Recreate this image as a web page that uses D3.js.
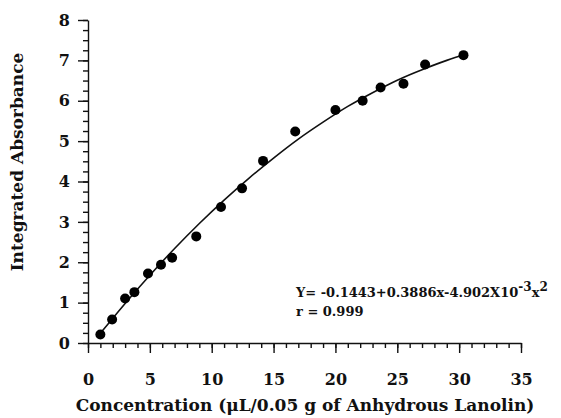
<!DOCTYPE html>
<html>
<head>
<meta charset="utf-8">
<script src="https://cdn.jsdelivr.net/npm/d3@7"></script>
<style>
  body { margin: 0; background: #fff; }
  text { font-family: "DejaVu Serif", "Liberation Serif", serif; fill: #111; }
</style>
</head>
<body>
<svg></svg>
<script>
// measured points (concentration, integrated absorbance)
let concentration = [1.0, 1.95, 3.0, 3.75, 4.85, 5.9, 6.8, 8.75, 10.75, 12.45, 14.15, 16.75, 20.0, 22.2, 23.65, 25.5, 27.25, 30.35];
let absorbance = [0.21, 0.58, 1.1, 1.26, 1.72, 1.94, 2.11, 2.64, 3.37, 3.83, 4.51, 5.24, 5.77, 6.0, 6.33, 6.42, 6.9, 7.13];

// fitted curve
let curveX = [1, 3, 5, 7, 9, 11, 13, 15, 17, 19, 21, 23, 25, 27, 29, 30.5];
let curveY = [0.24, 0.98, 1.68, 2.34, 2.96, 3.54, 4.08, 4.58, 5.05, 5.47, 5.86, 6.2, 6.51, 6.77, 7.0, 7.15];

let xTicks = [0, 5, 10, 15, 20, 25, 30, 35];
let yTicks = [0, 1, 2, 3, 4, 5, 6, 7, 8];

let width = 561;
let height = 418;
let plotLeft = 88, plotRight = 521, plotTop = 20, plotBottom = 343;

let svg = d3.select('svg').attr('width', width).attr('height', height);

let xScale = d3.scaleLinear().domain([0, 35]).range([plotLeft, plotRight]);
let yScale = d3.scaleLinear().domain([0, 8]).range([plotBottom, plotTop]);

//minor ticks first, then major with labels
svg.append('g')
    .attr('transform', 'translate(0,' + plotBottom + ')')
    .call(d3.axisBottom(xScale).tickValues(d3.range(0, 36, 1)).tickSize(5).tickFormat(''))
    .call(g => g.select('.domain').remove());
svg.append('g')
    .attr('transform', 'translate(0,' + plotBottom + ')')
    .call(d3.axisBottom(xScale).tickValues(xTicks).tickSize(10).tickPadding(21).tickSizeOuter(0))
    .call(g => g.selectAll('text').attr('font-size', 16).attr('font-weight', 'bold').attr('font-family', '"DejaVu Serif", serif'));

svg.append('g')
    .attr('transform', 'translate(' + plotLeft + ',0)')
    .call(d3.axisLeft(yScale).tickValues(d3.range(0, 8.01, 0.25)).tickSize(5).tickFormat(''))
    .call(g => g.select('.domain').remove());
svg.append('g')
    .attr('transform', 'translate(' + plotLeft + ',0)')
    .call(d3.axisLeft(yScale).tickValues(yTicks).tickSize(10).tickPadding(8).tickSizeOuter(0))
    .call(g => g.selectAll('text').attr('font-size', 16).attr('font-weight', 'bold').attr('font-family', '"DejaVu Serif", serif'));

svg.selectAll('.domain, .tick line').attr('stroke', '#111').attr('stroke-width', 1.4);

//fit line
let line = d3.line()
    .x((d, i) => xScale(curveX[i]))
    .y(d => yScale(d))
    .curve(d3.curveNatural);
svg.append('path')
    .datum(curveY)
    .attr('d', line)
    .attr('fill', 'none')
    .attr('stroke', '#111')
    .attr('stroke-width', 1.6);

//points
svg.selectAll('circle')
    .data(absorbance)
    .enter()
    .append('circle')
    .attr('cx', (d, i) => xScale(concentration[i]))
    .attr('cy', d => yScale(d))
    .attr('r', 5)
    .attr('fill', '#000');

//titles
svg.append('text')
    .attr('x', 305)
    .attr('y', 411)
    .attr('text-anchor', 'middle')
    .attr('font-size', 17)
    .attr('font-weight', 'bold')
    .text('Concentration (\u03bcL/0.05 g of Anhydrous Lanolin)');

svg.append('text')
    .attr('transform', 'translate(23,162) rotate(-90)')
    .attr('text-anchor', 'middle')
    .attr('font-size', 17)
    .attr('font-weight', 'bold')
    .text('Integrated Absorbance');

//equation
let eq = svg.append('text')
    .attr('x', 296)
    .attr('y', 297)
    .attr('font-size', 13)
    .attr('font-weight', 'bold');
eq.append('tspan').text('Y= -0.1443+0.3886x-4.902X10');
eq.append('tspan').attr('dy', -6).attr('font-size', 12).text('-3');
eq.append('tspan').attr('dy', 6).text('x');
eq.append('tspan').attr('dy', -6).attr('font-size', 12).text('2');

svg.append('text')
    .attr('x', 296)
    .attr('y', 316)
    .attr('font-size', 13)
    .attr('font-weight', 'bold')
    .text('r = 0.999');
</script>
</body>
</html>
